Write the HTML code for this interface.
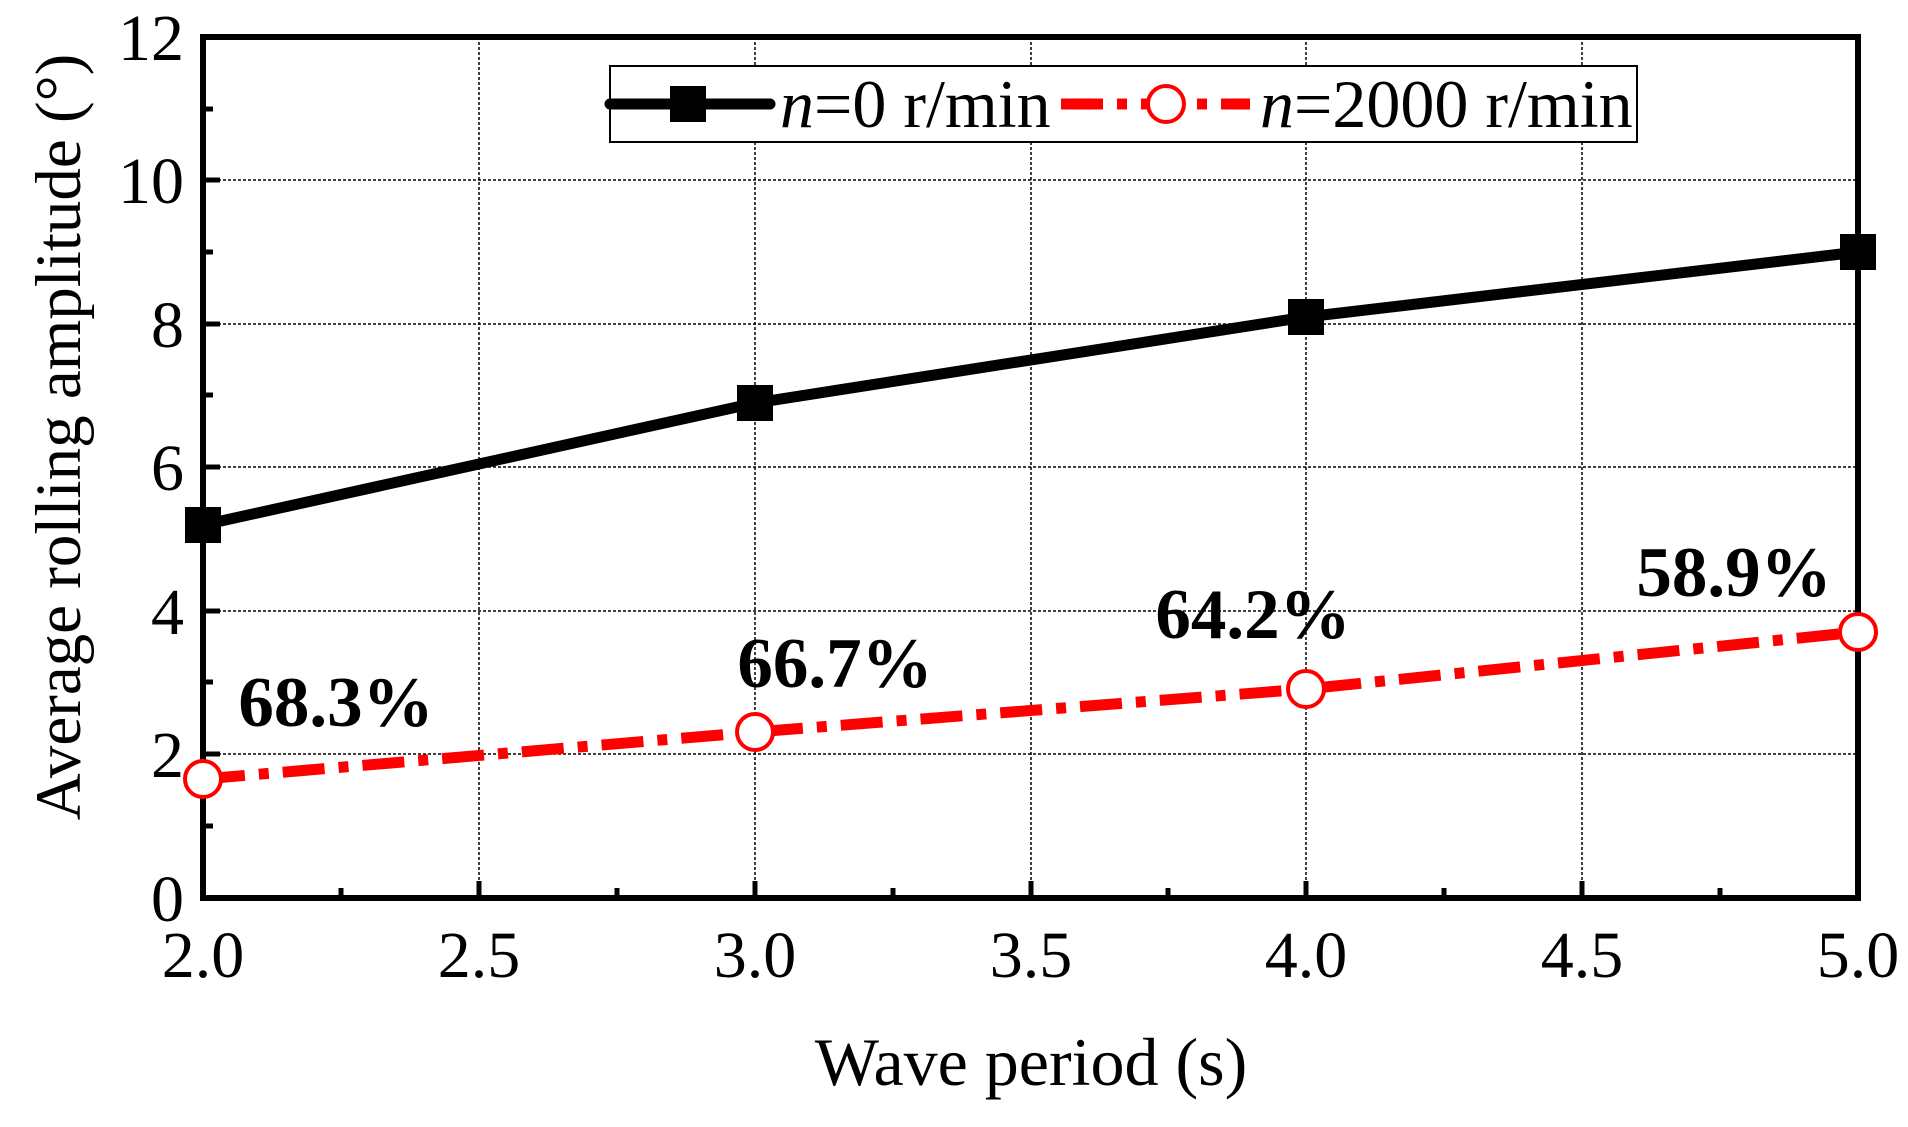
<!DOCTYPE html>
<html><head><style>body{margin:0;background:#fff}</style></head><body>
<svg width="1908" height="1122" xmlns="http://www.w3.org/2000/svg" font-family="Liberation Serif, serif">
<rect width="1908" height="1122" fill="#fff"/>
<g stroke="#000" stroke-width="1.5" stroke-dasharray="3,2">
<line x1="203" y1="754" x2="1858" y2="754"/><line x1="203" y1="611" x2="1858" y2="611"/>
<line x1="203" y1="467" x2="1858" y2="467"/><line x1="203" y1="324" x2="1858" y2="324"/>
<line x1="203" y1="180" x2="1858" y2="180"/>
<line x1="479" y1="37" x2="479" y2="898"/><line x1="755" y1="37" x2="755" y2="898"/>
<line x1="1031" y1="37" x2="1031" y2="898"/><line x1="1306" y1="37" x2="1306" y2="898"/>
<line x1="1582" y1="37" x2="1582" y2="898"/>
</g>
<g stroke="#000" stroke-width="5">
<line x1="203" y1="826" x2="213" y2="826"/><line x1="203" y1="754" x2="220" y2="754"/>
<line x1="203" y1="682" x2="213" y2="682"/><line x1="203" y1="611" x2="220" y2="611"/>
<line x1="203" y1="539" x2="213" y2="539"/><line x1="203" y1="467" x2="220" y2="467"/>
<line x1="203" y1="395" x2="213" y2="395"/><line x1="203" y1="324" x2="220" y2="324"/>
<line x1="203" y1="252" x2="213" y2="252"/><line x1="203" y1="180" x2="220" y2="180"/>
<line x1="203" y1="109" x2="213" y2="109"/>
<line x1="341" y1="898" x2="341" y2="888"/><line x1="479" y1="898" x2="479" y2="881"/>
<line x1="617" y1="898" x2="617" y2="888"/><line x1="755" y1="898" x2="755" y2="881"/>
<line x1="893" y1="898" x2="893" y2="888"/><line x1="1031" y1="898" x2="1031" y2="881"/>
<line x1="1168" y1="898" x2="1168" y2="888"/><line x1="1306" y1="898" x2="1306" y2="881"/>
<line x1="1444" y1="898" x2="1444" y2="888"/><line x1="1582" y1="898" x2="1582" y2="881"/>
<line x1="1720" y1="898" x2="1720" y2="888"/>
</g>
<rect x="203" y="37" width="1655" height="861" fill="none" stroke="#000" stroke-width="6"/>
<g font-size="66" text-anchor="end">
<text x="184" y="921">0</text><text x="184" y="777">2</text><text x="184" y="634">4</text>
<text x="184" y="490">6</text><text x="184" y="347">8</text><text x="184" y="203">10</text><text x="184" y="60">12</text>
</g>
<g font-size="66" text-anchor="middle">
<text x="203" y="977">2.0</text><text x="479" y="977">2.5</text><text x="755" y="977">3.0</text>
<text x="1031" y="977">3.5</text><text x="1306" y="977">4.0</text><text x="1582" y="977">4.5</text><text x="1858" y="977">5.0</text>
</g>
<text x="1031" y="1085" font-size="68" text-anchor="middle">Wave period (s)</text>
<text transform="translate(80,437) rotate(-90)" font-size="65" text-anchor="middle">Average rolling amplitude (°)</text>
<polyline points="203,525 755,403 1306,317 1858,252" fill="none" stroke="#000" stroke-width="11"/>
<g fill="#000"><rect x="185" y="507" width="36" height="36"/><rect x="737" y="385" width="36" height="36"/><rect x="1288" y="299" width="36" height="36"/><rect x="1840" y="234" width="36" height="36"/></g>
<polyline points="203,779 755,732 1306,689 1858,632" fill="none" stroke="#f00" stroke-width="11" stroke-dasharray="42,14,10,14"/>
<g fill="#fff" stroke="#f00" stroke-width="4"><circle cx="203" cy="779" r="18"/><circle cx="755" cy="732" r="18"/><circle cx="1306" cy="689" r="18"/><circle cx="1858" cy="632" r="18"/></g>
<g font-size="71" font-weight="bold" text-anchor="middle">
<text x="336" y="726">68.3%</text><text x="835" y="687">66.7%</text><text x="1253" y="638">64.2%</text><text x="1734" y="596">58.9%</text>
</g>
<rect x="610" y="66" width="1027" height="76" fill="#fff" stroke="#000" stroke-width="2"/>
<line x1="610" y1="104" x2="770" y2="104" stroke="#000" stroke-width="11" stroke-linecap="round"/>
<rect x="670" y="86" width="36" height="36" fill="#000"/>
<text x="780" y="127" font-size="68"><tspan font-style="italic">n</tspan>=0 r/min</text>
<line x1="1061" y1="104" x2="1250" y2="104" stroke="#f00" stroke-width="11" stroke-dasharray="42,14,10,14"/>
<circle cx="1166" cy="104" r="18" fill="#fff" stroke="#f00" stroke-width="4"/>
<text x="1260" y="127" font-size="68"><tspan font-style="italic">n</tspan>=2000 r/min</text>
</svg>
</body></html>
